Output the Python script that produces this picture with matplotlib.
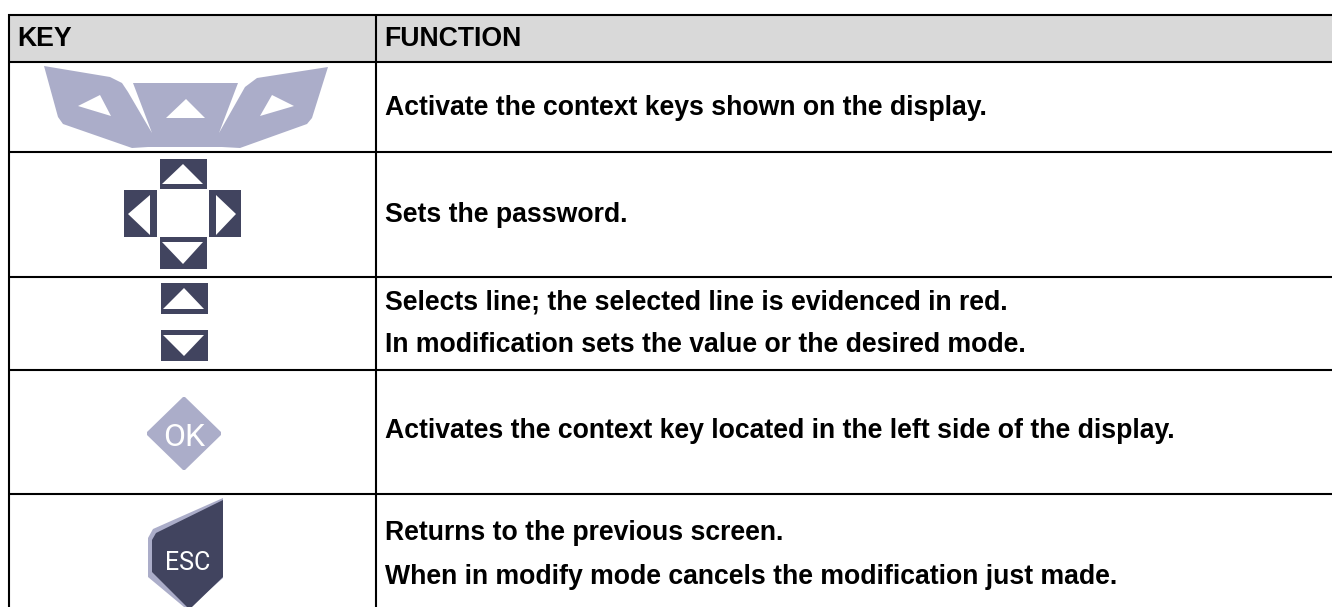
import matplotlib
matplotlib.use("Agg")
import matplotlib.pyplot as plt
from matplotlib.patches import Polygon, Rectangle

W, H = 1332, 607
LIGHT = "#abadc9"
DARK = "#41445f"
HEADER = "#d9d9d9"
TEXT_SIZE = 19.15

headers = ["KEY", "FUNCTION"]
functions = [
    ["Activate the context keys shown on the display."],
    ["Sets the password."],
    ["Selects line; the selected line is evidenced in red.",
     "In modification sets the value or the desired mode."],
    ["Activates the context key located in the left side of the display."],
    ["Returns to the previous screen.",
     "When in modify mode cancels the modification just made."],
]
# baselines in pixels
text_y = [[115], [221.5], [309, 352.5], [438.5], [540, 584]]

plt.rcParams["font.family"] = ["Liberation Sans", "DejaVu Sans"]
plt.rcParams["font.weight"] = "bold"

fig = plt.figure(figsize=(W / 100, H / 100), dpi=100)
ax = fig.add_axes([0, 0, 1, 1])
ax.set_xlim(0, W)
ax.set_ylim(H, 0)
ax.axis("off")


def poly(pts, color, z=2):
    ax.add_patch(Polygon(pts, closed=True, fc=color, ec="none", zorder=z))


# table
ax.add_patch(Rectangle((9, 15), W - 9, 47, fc=HEADER, ec="none", zorder=1))
for y in [15, 62, 152, 277, 370, 494]:
    ax.plot([8, W], [y, y], color="black", lw=1.5, solid_capstyle="butt", zorder=3)
for x in [9, 376]:
    ax.plot([x, x], [14, H], color="black", lw=1.5, solid_capstyle="butt", zorder=3)

ax.text(17, 46.5, headers[0], fontsize=TEXT_SIZE, va="baseline", ha="left", color="black")
ax.text(384, 46.5, headers[1], fontsize=TEXT_SIZE, va="baseline", ha="left", color="black")
for lines, ys in zip(functions, text_y):
    for line, y in zip(lines, ys):
        ax.text(385, y, line, fontsize=TEXT_SIZE, va="baseline", ha="left", color="black")

# context keys
poly([(44, 66), (110, 77), (122, 83), (128, 92), (152, 133), (133, 83), (238, 83), (219, 133),
      (245, 87), (257, 78), (328, 67), (312, 118), (307, 124), (240, 148), (222, 147),
      (148, 147), (132, 148), (63, 124), (58, 117)], LIGHT)
poly([(78, 106), (100, 95), (111, 116)], "white", 3)
poly([(186, 99), (205, 118), (166, 118)], "white", 3)
poly([(294, 106), (272, 95), (260, 116)], "white", 3)


# arrows
def key(x0, y0, x1, y1, tri):
    ax.add_patch(Rectangle((x0, y0), x1 - x0, y1 - y0, fc=DARK, ec="none", zorder=2))
    poly(tri, "white", 3)


key(160, 159, 207, 189, [(183, 164), (203, 184), (162, 184)])
key(160, 237, 207, 269, [(162, 242), (203, 242), (183, 264)])
key(124, 190, 157, 237, [(150, 195), (150, 235), (128, 214)])
key(209, 190, 241, 237, [(216, 195), (216, 235), (236, 214)])
key(161, 283, 208, 314, [(184, 288), (204, 309), (163, 309)])
key(161, 330, 208, 361, [(163, 335), (204, 335), (184, 356)])

# OK key
poly([(183, 397), (185, 397), (221, 432), (221, 435), (185, 470), (183, 470),
      (147, 435), (147, 432)], LIGHT)
ax.text(184, 446, "OK", fontsize=23, fontweight="normal", family="Roboto",
        color="white", ha="center", va="baseline", zorder=4)

# ESC key
poly([(223, 498), (223, 578), (190, 607), (184, 607), (148, 577), (148, 538), (153, 529)], LIGHT)
poly([(223, 500), (223, 577), (192, 607), (187, 607), (152, 572), (152, 540), (156, 533)], DARK, 3)
ax.text(188, 570, "ESC", fontsize=18, fontweight="normal", family="Roboto",
        color="white", ha="center", va="baseline", zorder=4)

fig.savefig("out.png", dpi=100)
